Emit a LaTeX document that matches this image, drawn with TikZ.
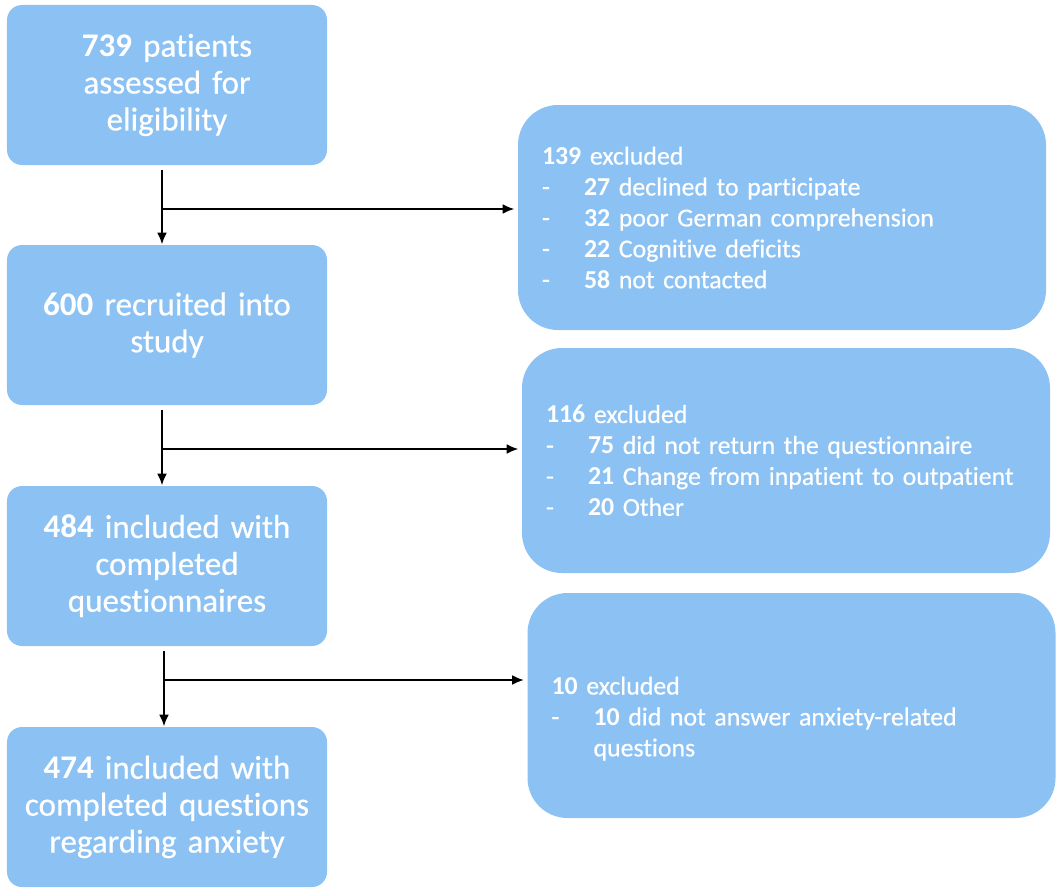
\documentclass[tikz,border=0pt]{standalone}
\usepackage{fontspec}
\setmainfont{Carlito}[Ligatures=NoCommon,UprightFeatures={FakeBold=0.5}]
\usepackage{tikz}
\usetikzlibrary{arrows.meta}
\definecolor{boxblue}{RGB}{139,194,243}
\tikzset{arrowout/.style={-{Latex[length=2.4mm,width=2mm]},line width=1.4pt},box/.style={rectangle, rounded corners=0.3cm, fill=boxblue, text=white, minimum width=6.4cm, minimum height=3.2cm, text width=6.3cm, align=center, inner sep=0.05cm, font=\fontsize{18.8}{21}\selectfont},exbox/.style={rectangle, rounded corners=0.8cm, fill=boxblue, text=white, minimum height=4.5cm, text width=9.6cm, align=left, inner xsep=0.48cm, font=\fontsize{14.7}{17.6}\selectfont}}
\newcommand{\dashitem}{\makebox[0.84cm][l]{-}}

\begin{document}
\begin{tikzpicture}
\useasboundingbox (0,0) rectangle (21.22,-17.84);

%main flow
\node (s1) at (3.34,-1.7)[box]{\textbf{739} patients\\assessed for\\eligibility};
\node (s2) at (3.34,-6.5)[box]{\textbf{600} recruited into\\study};
\node (s3) at (3.34,-11.32)[box]{\textbf{484} included with\\completed\\questionnaires};
\node (s4) at (3.34,-16.14)[box]{\textbf{474} included with\\completed questions\\regarding anxiety};

%exclusions
\node (ex1) at (15.64,-4.35)[exbox]{\textbf{139} excluded\\
\dashitem\textbf{27} declined to participate\\
\dashitem\textbf{32} poor German comprehension\\
\dashitem\textbf{22} Cognitive deficits\\
\dashitem\textbf{58} not contacted};
\node (ex2) at (15.72,-9.21)[exbox]{\textbf{116} excluded\\
\dashitem\textbf{75} did not return the questionnaire\\
\dashitem\textbf{21} Change from inpatient to outpatient\\
\dashitem\textbf{20} Other};
\node (ex3) at (15.83,-14.11)[exbox]{\rule{0pt}{0.88cm}\textbf{10} excluded\\
\dashitem\textbf{10} did not answer anxiety-related\\
\makebox[0.84cm][l]{}questions};

%arrows
\coordinate (b1) at (3.24,-4.18);
\coordinate (b2) at (3.24,-8.98);
\coordinate (b3) at (3.28,-13.6);
\draw[arrowout,shorten <=0.1cm] ([xshift=-0.1cm]s1.south) -- ([xshift=-0.1cm]s2.north);
\draw[arrowout,shorten <=0.1cm] ([xshift=-0.1cm]s2.south) -- ([xshift=-0.1cm]s3.north);
\draw[arrowout,shorten <=0.1cm] ([xshift=-0.06cm]s3.south) -- ([xshift=-0.06cm]s4.north);
\draw[arrowout,shorten >=0.06cm] (b1) -- (b1 -| ex1.west);
\draw[arrowout,shorten >=0.06cm] (b2) -- (b2 -| ex2.west);
\draw[arrowout,shorten >=0.06cm] (b3) -- (b3 -| ex3.west);

\end{tikzpicture}
\end{document}
